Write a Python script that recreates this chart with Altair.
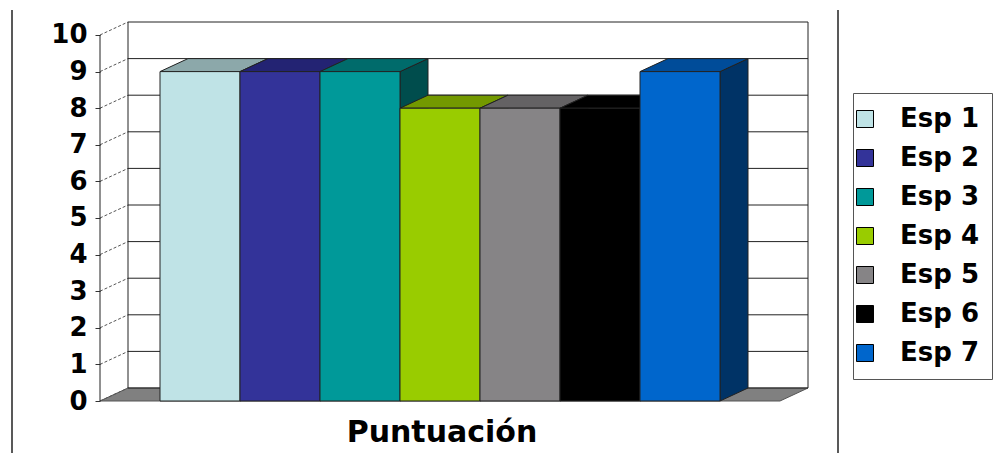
import altair as alt
import pandas as pd

# ---- data ----
names = ["Esp 1", "Esp 2", "Esp 3", "Esp 4", "Esp 5", "Esp 6", "Esp 7"]
values = [9, 9, 9, 8, 8, 8, 9]
front_colors = ["#BFE3E6", "#333399", "#009999", "#99CC00", "#868486", "#000000", "#0066CC"]
top_colors = ["#8CA8AA", "#232373", "#006B6B", "#739900", "#646264", "#000000", "#004C99"]
side_colors = ["#5F7273", "#1A1A4D", "#004D4D", "#4D6600", "#434243", "#000000", "#003366"]
y_ticks = list(range(11))
x_title = "Puntuación"

# ---- 3D geometry parameters (in data units) ----
GAP = 0.75      # space between floor edge and first/last bar
DX = 0.35       # depth offset in x (bar widths)
DY = 0.355      # depth offset in y (value units)
YMAX = 10
XEND = GAP * 2 + len(names)

W, H = 708, 379
xs = alt.Scale(domain=[0, XEND + DX], nice=False, zero=False)
ys = alt.Scale(domain=[0, YMAX + DY], nice=False, zero=False)
yaxis = alt.Axis(values=y_ticks, domain=False, grid=False, title=None,
                 tickSize=5, tickColor="#333", labelPadding=8,
                 labelOverlap=False, labelFont="DejaVu Sans", labelFontWeight="bold",
                 labelFontSize=26, labelColor="black")

front = pd.DataFrame({
    "name": names,
    "x0": [GAP + i for i in range(len(names))],
    "x1": [GAP + i + 1 for i in range(len(names))],
    "y0": [0] * len(names),
    "v": values,
})

top_rows = []
side_rows = []
for i, (n, v) in enumerate(zip(names, values)):
    x0, x1 = GAP + i, GAP + i + 1
    top_rows.append({"name": n, "y": v, "xl": x0, "xr": x1, "c": top_colors[i]})
    top_rows.append({"name": n, "y": v + DY, "xl": x0 + DX, "xr": x1 + DX, "c": top_colors[i]})
    side_rows.append({"name": n, "x": x1, "ya": 0, "yb": v, "c": side_colors[i]})
    side_rows.append({"name": n, "x": x1 + DX, "ya": DY, "yb": v + DY, "c": side_colors[i]})
tops = pd.DataFrame(top_rows)
sides = pd.DataFrame(side_rows)

floor = pd.DataFrame({"y": [0, DY], "xl": [0, DX], "xr": [XEND, XEND + DX]})

grid = pd.DataFrame({"k": y_ticks})
grid["yb"] = grid["k"] + DY
grid["xa"] = DX
grid["xb"] = XEND + DX
grid["x0"] = 0

walls = pd.DataFrame({
    "x": [DX, XEND + DX, 0],
    "y": [DY, DY, 0],
    "y2": [YMAX + DY, YMAX + DY, YMAX],
})

floor_layer = alt.Chart(floor).mark_area(orient="horizontal", color="#808080",
                                         stroke="#555", strokeWidth=1).encode(
    y=alt.Y("y:Q", scale=ys, axis=yaxis),
    x=alt.X("xl:Q", scale=xs, axis=None), x2="xr:Q")

diag = alt.Chart(grid).mark_rule(color="#555", strokeWidth=1, strokeDash=[3, 2]).encode(
    x=alt.X("x0:Q", scale=xs, axis=None), x2="xa:Q",
    y=alt.Y("k:Q", scale=ys, axis=yaxis), y2="yb:Q")

hgrid = alt.Chart(grid).mark_rule(color="#222", strokeWidth=1).encode(
    x=alt.X("xa:Q", scale=xs, axis=None), x2="xb:Q",
    y=alt.Y("yb:Q", scale=ys, axis=yaxis))

wall_lines = alt.Chart(walls).mark_rule(color="#222", strokeWidth=1).encode(
    x=alt.X("x:Q", scale=xs, axis=None),
    y=alt.Y("y:Q", scale=ys, axis=yaxis), y2="y2:Q")

side_layer = alt.Chart(sides).mark_area(stroke="#222", strokeWidth=1).encode(
    x=alt.X("x:Q", scale=xs, axis=None),
    y=alt.Y("ya:Q", scale=ys, axis=yaxis), y2="yb:Q",
    fill=alt.Fill("c:N", scale=None), detail="name:N")

top_layer = alt.Chart(tops).mark_area(orient="horizontal", stroke="#222", strokeWidth=1).encode(
    y=alt.Y("y:Q", scale=ys, axis=yaxis),
    x=alt.X("xl:Q", scale=xs, axis=None), x2="xr:Q",
    fill=alt.Fill("c:N", scale=None), detail="name:N")

front_layer = alt.Chart(front).mark_rect(stroke="#222", strokeWidth=1).encode(
    x=alt.X("x0:Q", scale=xs, axis=None),
    x2="x1:Q",
    y=alt.Y("y0:Q", scale=ys, axis=yaxis),
    y2="v:Q",
    color=alt.Color("name:N", scale=alt.Scale(domain=names, range=front_colors),
                    legend=alt.Legend(orient="none", legendX=753, legendY=71, title=None,
                                      symbolType="square", symbolSize=289,
                                      symbolStrokeColor="#000", symbolStrokeWidth=1,
                                      symbolOffset=-14,
                                      labelFont="DejaVu Sans", labelFontWeight="bold",
                                      labelFontSize=26, labelColor="black",
                                      labelOffset=22, rowPadding=13, padding=13,
                                      strokeColor="#555", fillColor="white",
                                      labelLimit=300)),
)

title_layer = alt.Chart(pd.DataFrame({"t": [x_title]})).mark_text(
    font="DejaVu Sans", fontSize=30, fontWeight="bold", color="black", align="center",
    baseline="alphabetic").encode(
    text="t:N", x=alt.value(342), y=alt.value(420))

frame = alt.Chart(pd.DataFrame({"p": [-88, 738]})).mark_rule(color="#222", strokeWidth=1.5).encode(
    x=alt.X("p:Q", scale=None), y=alt.value(-12), y2=alt.value(431))

chart = alt.layer(
    floor_layer, diag, hgrid, wall_lines, side_layer, top_layer, front_layer,
    title_layer, frame
).properties(
    width=W, height=H,
    autosize=alt.AutoSizeParams(type="none"),
    padding={"left": 100, "top": 22, "right": 187, "bottom": 52},
    background="white",
).configure_view(stroke=None)

chart.save("out.html", embed_options={"renderer": "svg", "actions": False})
